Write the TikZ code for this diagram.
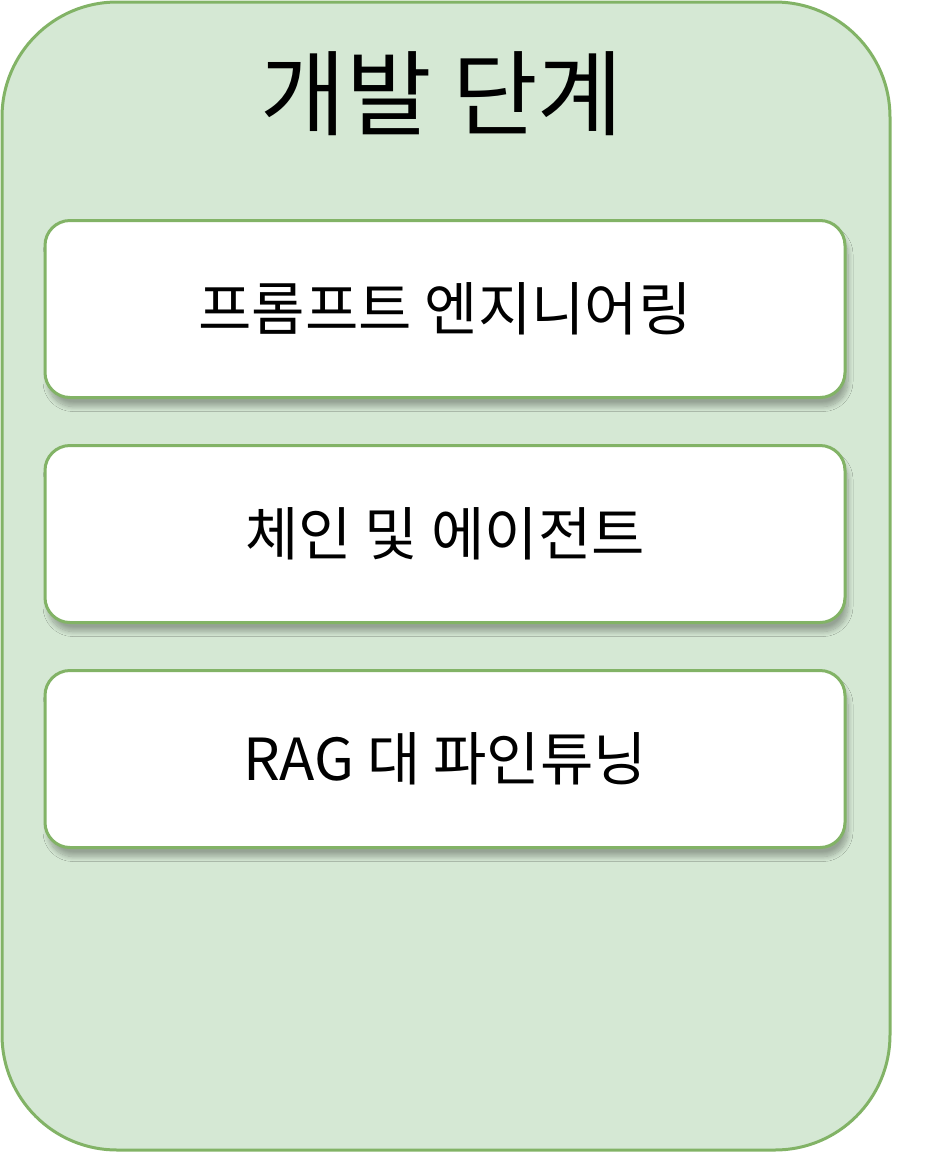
\documentclass[tikz,border=0pt]{standalone}
\usepackage{fontspec}
\setmainfont{Noto Sans CJK KR}
\usetikzlibrary{positioning,shadows.blur}

\definecolor{stagefill}{HTML}{D5E8D4}
\definecolor{stageline}{HTML}{82B366}

\begin{document}
\begin{tikzpicture}[
		x=1pt, y=-1pt,
		stage/.style={draw=stageline, line width=3pt, fill=stagefill, rounded corners=115pt},
		title/.style={font=\fontsize{93}{100}\selectfont},
		task/.style={draw=stageline, line width=3pt, fill=white, rounded corners=25pt,
			minimum width=800pt, minimum height=177pt, inner sep=0pt,
			font=\fontsize{58}{64}\selectfont,
			blur shadow={shadow xshift=3pt, shadow yshift=-9pt, shadow blur radius=5pt, shadow blur steps=10, shadow opacity=30}},
		node distance=45pt,
	]
		\useasboundingbox (0,0) rectangle (928,1152);
		\draw[stage] (2,2) rectangle (890,1150);
		
		\node[title] (heading) at (442,94) {개발 단계};
		
		\node[task] (prompt) at (445,309) {프롬프트 엔지니어링};
		\node[task, below=of prompt] (chain) {체인 및 에이전트};
		\node[task, below=of chain] (ragft) {RAG 대 파인튜닝};
	\end{tikzpicture}
\end{document}
